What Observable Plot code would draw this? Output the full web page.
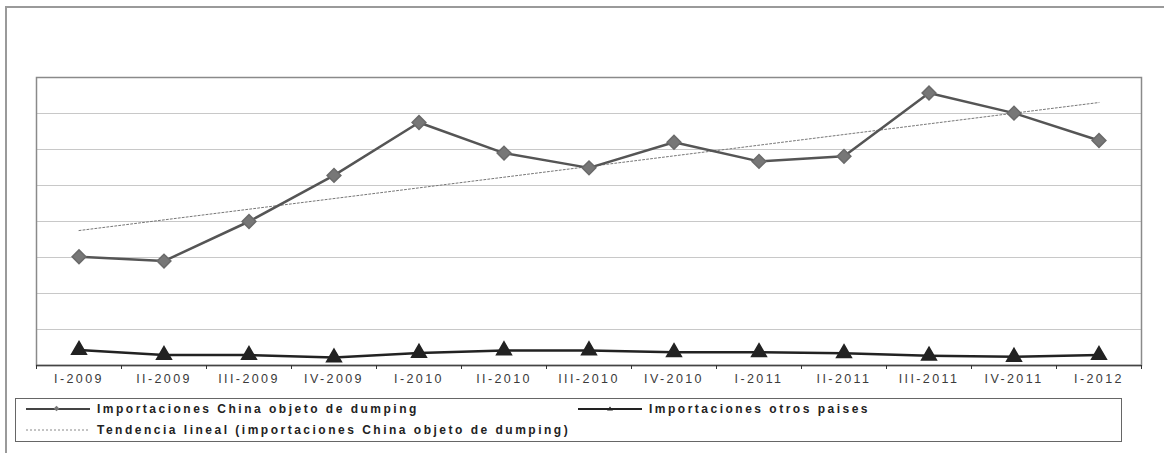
<!DOCTYPE html>
<html>
<head>
<meta charset="utf-8">
<script src="https://cdn.jsdelivr.net/npm/d3@7"></script>
<script src="https://cdn.jsdelivr.net/npm/@observablehq/plot@0.6"></script>
<style>
  html, body { margin: 0; padding: 0; background: #fff; width: 1164px; height: 453px; overflow: hidden; }
  #outer { position: absolute; left: 5px; top: 6px; width: 1200px; height: 500px; border: 2.5px solid #9a9a9a; box-sizing: border-box; }
  #chart { position: absolute; left: 0; top: 0; }
  #chart svg text { letter-spacing: 2.4px; }
  #legend { position: absolute; left: 15px; top: 398px; width: 1107px; height: 44px; border: 1.5px solid #666; box-sizing: border-box;
            font-family: "Liberation Sans", Arial, sans-serif; font-weight: bold; font-size: 12px; letter-spacing: 2.5px; color: #222; }
  .item { position: absolute; display: flex; align-items: center; white-space: nowrap; }
  .item svg { margin-right: 6px; }
</style>
</head>
<body>
<div id="outer"></div>
<div id="chart"></div>
<div id="legend"></div>
<script>
const periods = ["I-2009","II-2009","III-2009","IV-2009","I-2010","II-2010","III-2010","IV-2010","I-2011","II-2011","III-2011","IV-2011","I-2012"];
const china = [3.02, 2.90, 4.00, 5.28, 6.75, 5.90, 5.49, 6.20, 5.67, 5.81, 7.57, 7.01, 6.25];
const otros = [0.43, 0.29, 0.29, 0.22, 0.35, 0.42, 0.42, 0.37, 0.37, 0.34, 0.27, 0.24, 0.29];
const seriesNames = ["Importaciones China objeto de dumping", "Importaciones otros paises", "Tendencia lineal (importaciones China objeto de dumping)"];

const chinaData = periods.map((p, i) => ({i, p, v: china[i]}));
const otrosData = periods.map((p, i) => ({i, p, v: otros[i]}));
const bounds = d3.range(-0.5, periods.length, 1);

const chart = Plot.plot({
  width: 1164,
  height: 395,
  marginLeft: 36,
  marginRight: 23,
  marginTop: 77,
  marginBottom: 30,
  style: {fontFamily: "Liberation Sans, Arial, sans-serif", background: "transparent"},
  x: {type: "linear", domain: [-0.5, periods.length - 0.5]},
  y: {domain: [0, 8], axis: null},
  marks: [
    Plot.gridY({ticks: 8, stroke: "#c8c8c8", strokeOpacity: 1, strokeWidth: 1}),
    Plot.frame({stroke: "#8a8a8a", strokeWidth: 1.5}),
    Plot.ruleY([0], {stroke: "#444", strokeWidth: 1.5}),
    Plot.axisX(bounds, {tickFormat: () => "", tickSize: 4, stroke: "#333", label: null}),
    Plot.axisX(d3.range(periods.length), {tickFormat: i => periods[i], tickSize: 0, tickPadding: 9, fontSize: 12.5, fill: "#3a3a3a", label: null}),
    Plot.linearRegressionY(chinaData, {x: "i", y: "v", ci: 0, stroke: "#777", strokeWidth: 1, strokeDasharray: "2,2"}),
    Plot.line(chinaData, {x: "i", y: "v", stroke: "#555", strokeWidth: 2.5}),
    Plot.dot(chinaData, {x: "i", y: "v", symbol: "square", rotate: 45, r: 5.5, fill: "#777", stroke: "#6a6a6a"}),
    Plot.line(otrosData, {x: "i", y: "v", stroke: "#222", strokeWidth: 2.5}),
    Plot.dot(otrosData, {x: "i", y: "v", symbol: "triangle", r: 5.5, fill: "#222", stroke: "#222"})
  ]
});
document.getElementById("chart").appendChild(chart);

// legend
const legend = document.getElementById("legend");
function addItem(left, top, name, kind) {
  const div = document.createElement("div");
  div.className = "item";
  div.style.left = left + "px";
  div.style.top = top + "px";
  let sample;
  if (kind === "china") {
    sample = `<svg width="66" height="10"><line x1="1" y1="5" x2="65" y2="5" stroke="#444" stroke-width="2"/><rect x="29.5" y="2.5" width="4" height="4" fill="#777" transform="rotate(45 31.5 4.5)"/></svg>`;
  } else if (kind === "otros") {
    sample = `<svg width="66" height="10"><line x1="1" y1="5" x2="65" y2="5" stroke="#222" stroke-width="2"/><path d="M30,6.5L33,2.5L36,6.5Z" fill="#222"/></svg>`;
  } else {
    sample = `<svg width="66" height="10"><line x1="1" y1="5" x2="65" y2="5" stroke="#888" stroke-width="1" stroke-dasharray="2,2"/></svg>`;
  }
  div.innerHTML = sample + `<span>${name}</span>`;
  legend.appendChild(div);
}
addItem(9, 3, seriesNames[0], "china");
addItem(561, 3, seriesNames[1], "otros");
addItem(9, 24, seriesNames[2], "trend");
</script>
</body>
</html>
